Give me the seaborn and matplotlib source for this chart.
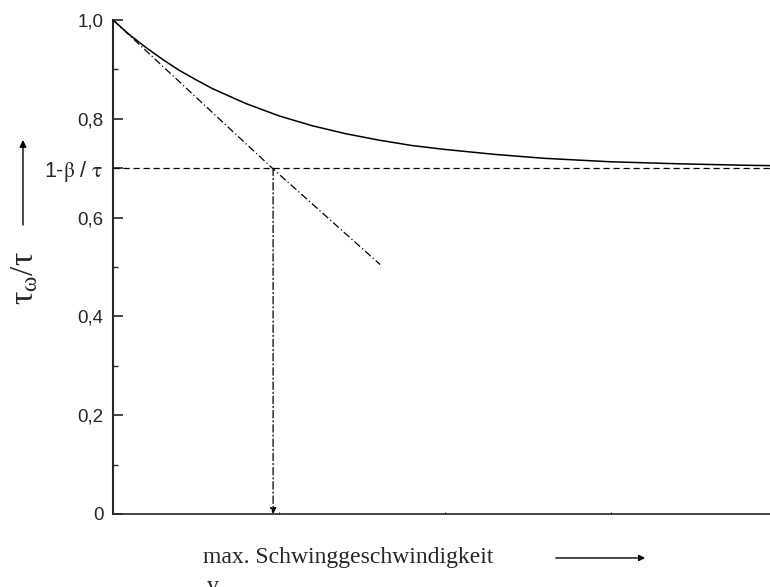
import numpy as np
import pandas as pd
import seaborn as sns
import matplotlib.pyplot as plt
from matplotlib.ticker import MultipleLocator

# values
curve_x = [0, 0.1, 0.2, 0.3, 0.4, 0.5, 0.6, 0.8, 1.0, 1.2, 1.4, 1.6, 1.8, 2.0,
           2.3, 2.6, 3.0, 3.4, 3.8, 4.0]
curve_y = [1.0, 0.970, 0.944, 0.920, 0.898, 0.879, 0.861, 0.831, 0.806, 0.786,
           0.770, 0.757, 0.746, 0.738, 0.728, 0.720, 0.713, 0.709, 0.706, 0.705]
tangent_x = [0, 0.96, 1.61]
tangent_y = [1.0, 0.70, 0.505]
limit_y = 0.70
limit_x = 0.965
ytick_vals = [0, 0.2, 0.4, 0.6, 0.7, 0.8, 1.0]
ytick_labels = ["0", "0,2", "0,4", "0,6", r"1-$\mathrm{β}$ / $\mathrm{τ}$",
                "0,8", "1,0"]

sns.set_style("ticks")
plt.rcParams["font.family"] = ["Liberation Sans", "DejaVu Sans"]
plt.rcParams["mathtext.fontset"] = "stix"

fig = plt.figure(figsize=(7.7, 5.87), dpi=100)
ax = fig.add_axes([113 / 770, 1 - 514 / 587, 657 / 770, 494 / 587])

df_curve = pd.DataFrame({"x": curve_x, "y": curve_y})
df_tan = pd.DataFrame({"x": tangent_x, "y": tangent_y})

sns.lineplot(x="x", y="y", data=df_curve, color="black", linewidth=1.1, ax=ax)
sns.lineplot(x="x", y="y", data=df_tan, color="black", linewidth=0.9, ax=ax,
             dashes=False)
ax.lines[-1].set_dashes((6, 2.2, 1, 2.2))

# limit line and projection onto the x axis
ax.axhline(limit_y, color="black", linewidth=0.9, dashes=(5, 3))
ax.annotate("", xy=(limit_x, 0), xytext=(limit_x, limit_y),
            arrowprops=dict(arrowstyle="-|>", color="black", lw=0.9,
                            linestyle=(0, (6, 2.2, 1, 2.2)),
                            mutation_scale=9, shrinkA=0, shrinkB=0))

ax.set_xlim(0, 3.96)
ax.set_ylim(0, 1.0)
ax.set_yticks(ytick_vals)
ax.set_yticklabels(ytick_labels, fontsize=13.5)
ax.get_yticklabels()[4].set_fontsize(15.5)
ax.yaxis.set_minor_locator(MultipleLocator(0.1))
ax.tick_params(axis="y", which="major", direction="in", length=7, width=1.2, pad=7)
ax.tick_params(axis="y", which="minor", direction="in", length=3.5, width=1.0)
ax.set_xticks([1, 2, 3])
ax.set_xticklabels([])
ax.tick_params(axis="x", direction="in", length=1.5, width=0.8)

sns.despine(ax=ax)
ax.spines["left"].set_linewidth(1.5)
ax.spines["bottom"].set_linewidth(1.2)
ax.set_xlabel("")
ax.set_ylabel("")

# axis labels with arrows
ax.text(-0.134, 0.478, r"$\mathregular{τ_{ω}/τ}$", rotation=90, fontsize=24,
        family=["Liberation Serif"], transform=ax.transAxes, ha="center", va="center")
ax.annotate("", xy=(-0.137, 0.757), xytext=(-0.137, 0.585),
            xycoords="axes fraction", textcoords="axes fraction",
            arrowprops=dict(arrowstyle="-|>", color="black", lw=1.0,
                            mutation_scale=10, shrinkA=0, shrinkB=0))
ax.text(0.137, -0.089, "max. Schwinggeschwindigkeit", fontsize=17,
        family=["Liberation Serif"], transform=ax.transAxes, ha="left", va="center")
ax.annotate("", xy=(0.81, -0.089), xytext=(0.674, -0.089),
            xycoords="axes fraction", textcoords="axes fraction",
            arrowprops=dict(arrowstyle="-|>", color="black", lw=1.0,
                            mutation_scale=9, shrinkA=0, shrinkB=0))
fig.text(207 / 770, 1 - 576 / 587, "v", fontsize=17, family=["Liberation Serif"],
         ha="left", va="top")

fig.savefig("out.png", dpi=100)
